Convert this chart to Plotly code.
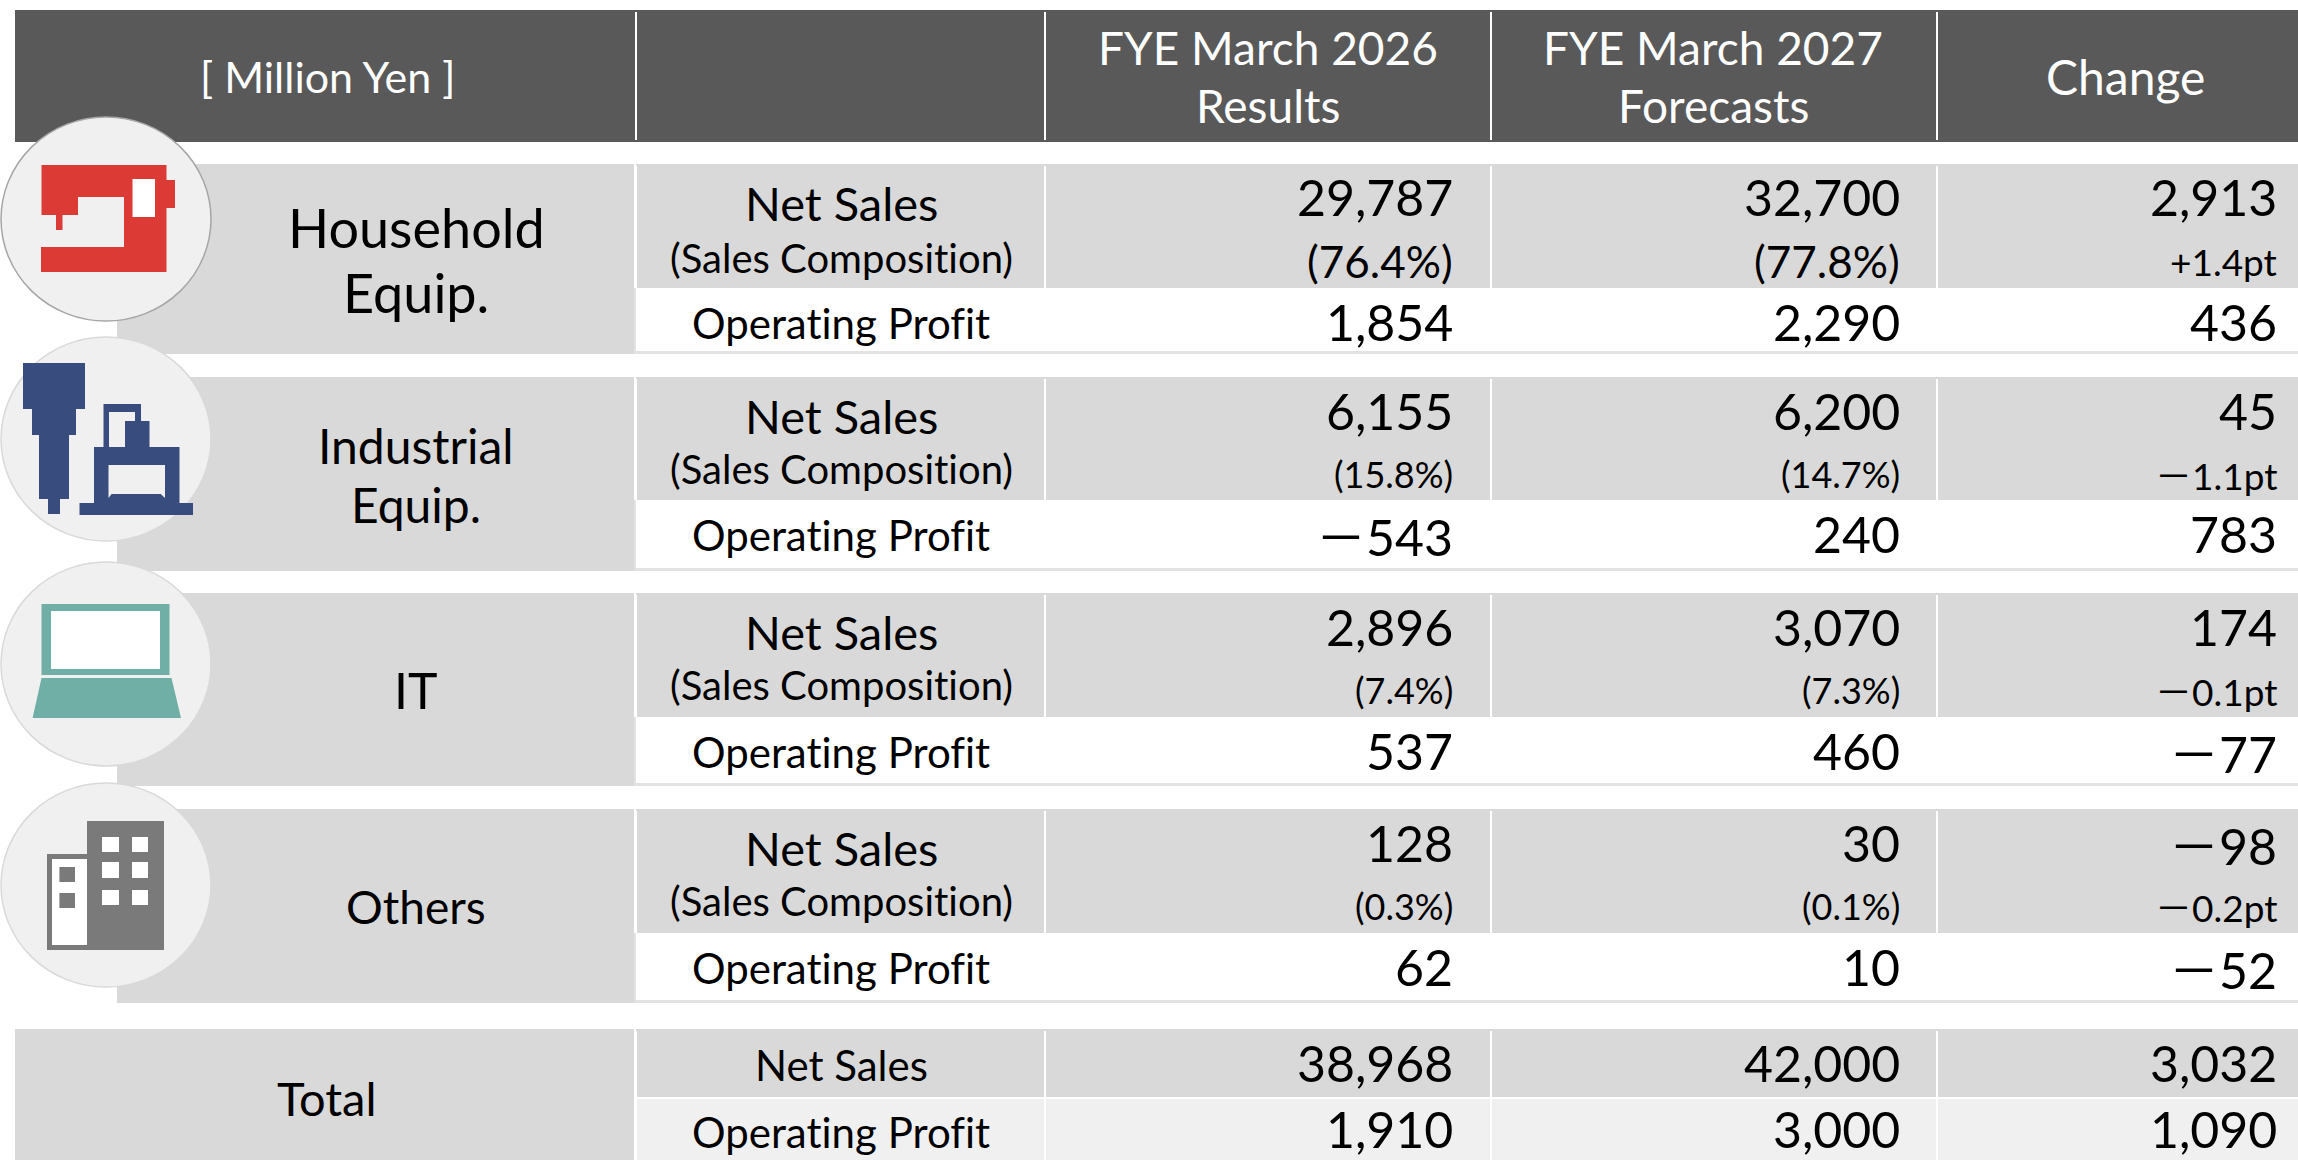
import plotly.graph_objects as go

# ---- data ----
segments = [["Household", "Equip."], ["Industrial", "Equip."], ["IT"], ["Others"]]
columns = [["FYE March 2026", "Results"], ["FYE March 2027", "Forecasts"], ["Change"]]
unit_label = "[ Million Yen ]"
net_sales_label = "Net Sales"
composition_label = "(Sales Composition)"
op_label = "Operating Profit"
total_label = "Total"
net_sales = [["29,787", "32,700", "2,913"], ["6,155", "6,200", "45"], ["2,896", "3,070", "174"], ["128", "30", "－98"]]
composition = [["(76.4%)", "(77.8%)", "+1.4pt"], ["(15.8%)", "(14.7%)", "－1.1pt"], ["(7.4%)", "(7.3%)", "－0.1pt"], ["(0.3%)", "(0.1%)", "－0.2pt"]]
op_profit = [["1,854", "2,290", "436"], ["－543", "240", "783"], ["537", "460", "－77"], ["62", "10", "－52"]]
total_sales = ["38,968", "42,000", "3,032"]
total_op = ["1,910", "3,000", "1,090"]

# ---- layout geometry (pixel space of the page) ----
W, H = 2298, 1160
FONT = "Lato, 'Noto Sans', sans-serif"
DARK, GRAY, PALE, LINE = "#595959", "#d9d9d9", "#f0f0f0", "#e3e3e3"
SEP = [636, 1045, 1491, 1937]
RIGHT = [1455, 1902, 2279]
CENTER = [1268, 1713, 2125]
LABEL_X = 841
NAME_X = 416
TOPS = [164, 377, 593, 809]
MIDS = [288, 500, 717, 933]
BOTS = [354, 571, 786, 1003]
NAME_SIZE = [54, 48, 50, 46]
NAME_Y = [[227, 292], [445, 504], [690], [906]]
CIRCLE_Y = [219, 439, 664, 885]
CIRCLE_RX = 105
CIRCLE_RY = 102

shapes = []
ann = []


def rect(x0, y0, x1, y1, color, line=None):
    shapes.append(dict(type="rect", x0=x0, y0=y0, x1=x1, y1=y1, fillcolor=color,
                       line=dict(width=0) if line is None else dict(color=line, width=1)))


def vline(x, y0, y1, color="#ffffff", w=2):
    shapes.append(dict(type="line", x0=x, x1=x, y0=y0, y1=y1, line=dict(color=color, width=w)))


def text(x, y, s, size, anchor="center", color="#000000"):
    s = s.replace("－", "<span style=\"font-family:'Noto Sans CJK JP'\">－</span>")
    ann.append(dict(x=x, y=y, text=s, xref="x", yref="y", showarrow=False, xanchor=anchor,
                    yanchor="middle", align="center", font=dict(family=FONT, size=size, color=color)))


def label(x, y, s, size):
    text(x, y, f'<span style="font-variant-ligatures:none">{s}</span>', size)


def poly(points, color):
    path = "M" + " L".join(f"{x},{y}" for x, y in points) + " Z"
    shapes.append(dict(type="path", path=path, fillcolor=color, line=dict(width=0)))


# header
rect(15, 10, W, 142, DARK)
for x in SEP:
    vline(x, 12, 140)
text(327, 76, unit_label, 43, color="#ffffff")
for c, lines in zip(CENTER, columns):
    if len(lines) == 2:
        text(c, 47, lines[0], 46, color="#ffffff")
        text(c, 105, lines[1], 46, color="#ffffff")
    else:
        text(c, 76, lines[0], 48, color="#ffffff")

# segment rows
for i, seg in enumerate(segments):
    t, m, b = TOPS[i], MIDS[i], BOTS[i]
    rect(117, t, 634, b, GRAY)
    rect(636, t, W, m, GRAY)
    rect(636, b - 3, W, b, LINE)
    vline(635, m, b, LINE, 2)
    for x in SEP:
        vline(x, t + 2, m)
    for line, y in zip(seg, NAME_Y[i]):
        text(NAME_X, y, line, NAME_SIZE[i])
    label(LABEL_X, t + 39, net_sales_label, 47)
    label(LABEL_X, t + (94 if i == 0 else 92), composition_label, 40)
    label(LABEL_X, m + 35, op_label, 42)
    for j in range(3):
        text(RIGHT[j], t + 33 + (1 if i else 0), net_sales[i][j], 50, "right")
        pct_size = 37 if j == 2 else (44 if i == 0 else 36)
        text(RIGHT[j], t + 97, composition[i][j], pct_size, "right")
        text(RIGHT[j], m + 34, op_profit[i][j], 50, "right")

# total block
rect(15, 1029, 634, H, GRAY)
rect(636, 1029, W, 1097, GRAY)
rect(636, 1099, W, H, PALE)
for x in SEP:
    vline(x, 1031, H)
text(327, 1098, total_label, 47)
label(LABEL_X, 1065, net_sales_label, 42)
label(LABEL_X, 1132, op_label, 42)
for j in range(3):
    text(RIGHT[j], 1063, total_sales[j], 50, "right")
    text(RIGHT[j], 1129, total_op[j], 50, "right")

# icon discs
CX = 106
for i, cy in enumerate(CIRCLE_Y):
    shapes.append(dict(type="circle", x0=CX - CIRCLE_RX, x1=CX + CIRCLE_RX, y0=cy - CIRCLE_RY, y1=cy + CIRCLE_RY,
                       fillcolor=PALE, line=dict(color="#a6a6a6" if i == 0 else "#d9d9d9", width=1.5)))

# sewing machine
RED = "#dc3a34"
poly([(41.5, 165), (166.5, 165), (166.5, 180), (175, 180), (175, 208), (166.5, 208), (166.5, 272), (41, 272),
      (41, 247), (124, 247), (124, 197), (78, 197), (78, 215), (62.5, 215), (62.5, 230), (56, 230), (56, 215),
      (41.5, 215)], RED)
rect(132.5, 179, 155, 217, "#ffffff")

# industrial machines
NAVY = "#394c7e"
poly([(23, 363), (85, 363), (85, 409), (76, 409), (76, 435), (69, 435), (69, 499), (60, 499), (60, 514), (48, 514),
      (48, 499), (39, 499), (39, 435), (32, 435), (32, 409), (23, 409)], NAVY)
poly([(103.5, 447), (103.5, 404), (141, 404), (141, 421), (149.5, 421), (149.5, 447), (179.5, 447), (179.5, 503),
      (193, 503), (193, 515), (79.5, 515), (79.5, 503), (94, 503), (94, 447)], NAVY)
poly([(109, 412), (135, 412), (135, 421), (125, 421), (125, 447), (109, 447)], PALE)
poly([(108.5, 465), (165, 465), (165, 498), (160.7, 494), (111.6, 494), (108.5, 498)], PALE)

# laptop
TEAL = "#70afa6"
rect(41.5, 604, 169.5, 675, TEAL)
rect(51, 611, 160, 669, "#ffffff")
poly([(41.5, 678), (171.5, 678), (181, 718), (32.6, 718)], TEAL)

# building
SLATE = "#7a7a7a"
rect(87, 821, 164, 950, SLATE)
rect(47, 854, 87, 950, SLATE)
rect(52, 859, 87, 945, "#ffffff")
for y0, y1 in [(867, 882), (893, 908)]:
    rect(59.4, y0, 75, y1, SLATE)
for y0, y1 in [(837, 852), (862, 878), (890, 905)]:
    for x0, x1 in [(102, 119), (132, 148)]:
        rect(x0, y0, x1, y1, "#ffffff")

fig = go.Figure()
fig.update_layout(
    width=W, height=H, margin=dict(l=0, r=0, t=0, b=0), paper_bgcolor="#ffffff", plot_bgcolor="#ffffff",
    showlegend=False, shapes=shapes, annotations=ann,
    xaxis=dict(range=[0, W], visible=False, fixedrange=True),
    yaxis=dict(range=[H, 0], visible=False, fixedrange=True),
)
fig.write_html("out.html", config=dict(displayModeBar=False),
               post_script="document.body.style.margin='0';document.body.style.overflow='hidden';")
